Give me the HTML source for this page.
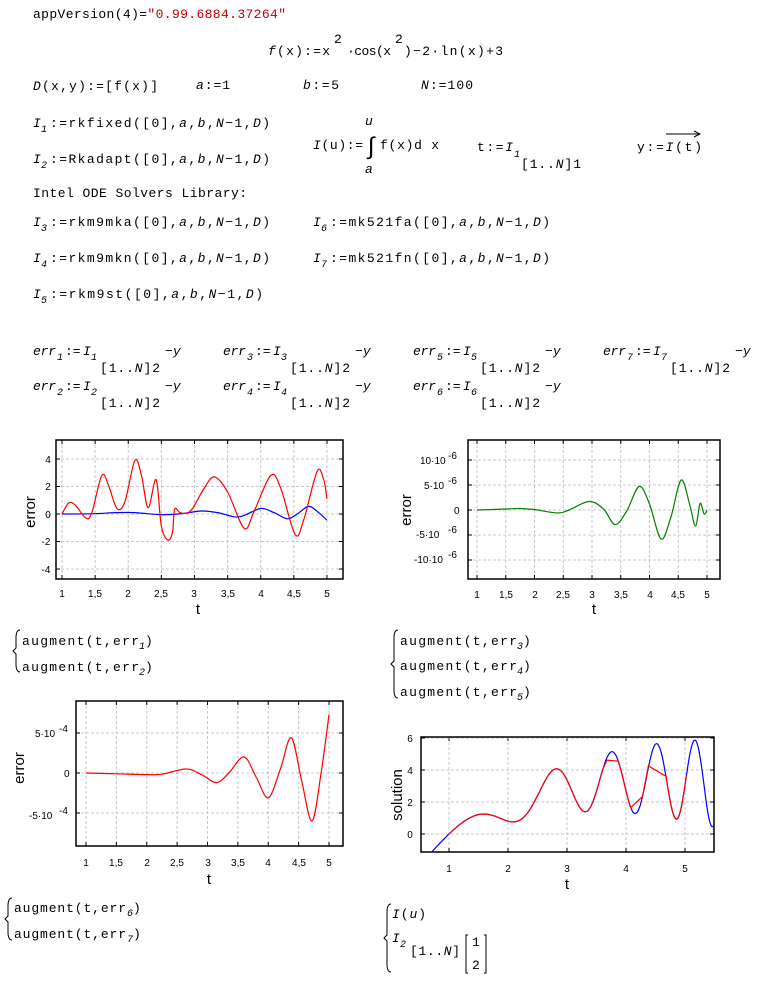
<!DOCTYPE html>
<html><head><meta charset="utf-8"><style>
html,body{margin:0;padding:0;background:#fff;}
svg{display:block}
.m{font-family:"Liberation Mono",monospace;font-size:13px;fill:#000}
.i{font-style:italic}
.s{font-size:10px}
.r{fill:#c00000}
.tk{font-family:"Liberation Sans",sans-serif;font-size:10px;fill:#000}
.c{text-anchor:middle}
.ax{font-family:"Liberation Sans",sans-serif;font-size:15px;fill:#000}
</style></head><body>
<svg id="sv" width="757" height="981" viewBox="0 0 757 981" xmlns="http://www.w3.org/2000/svg">
<g class="m">
<text x="33" y="18" textLength="253" lengthAdjust="spacing">appVersion(4)=<tspan class="r">"0.99.6884.37264"</tspan></text>
<text x="268" y="55" textLength="62" lengthAdjust="spacing"><tspan class="i">f</tspan>(x):=x</text><text x="334" y="43">2</text>
<text x="347" y="55" textLength="44" lengthAdjust="spacing">·cos(x</text><text x="395" y="43">2</text>
<text x="404" y="55" textLength="99" lengthAdjust="spacing">)−2·ln(x)+3</text>
<text x="33" y="90" textLength="125" lengthAdjust="spacing"><tspan class="i">D</tspan>(x,y):=[f(x)]</text>
<text x="196" y="89" textLength="34" lengthAdjust="spacing"><tspan class="i">a</tspan>:=1</text>
<text x="303" y="89" textLength="36" lengthAdjust="spacing"><tspan class="i">b</tspan>:=5</text>
<text x="421" y="89" textLength="52" lengthAdjust="spacing"><tspan class="i">N</tspan>:=100</text>

<text x="33" y="127" class="i">I</text><text x="41" y="132" class="s i">1</text><text x="50" y="127" textLength="220" lengthAdjust="spacing">:=rkfixed([0],<tspan class="i">a</tspan>,<tspan class="i">b</tspan>,<tspan class="i">N</tspan>−1,<tspan class="i">D</tspan>)</text>
<text x="33" y="163" class="i">I</text><text x="41" y="168" class="s i">2</text><text x="50" y="163" textLength="220" lengthAdjust="spacing">:=Rkadapt([0],<tspan class="i">a</tspan>,<tspan class="i">b</tspan>,<tspan class="i">N</tspan>−1,<tspan class="i">D</tspan>)</text>

<text x="365" y="125" class="i">u</text>
<text x="313" y="149" textLength="50" lengthAdjust="spacing"><tspan class="i">I</tspan>(u):=</text><text x="364" y="154" style="font-size:24px">∫</text>
<text x="380" y="149" textLength="59" lengthAdjust="spacing">f(x)d x</text>
<text x="365" y="173" class="i">a</text>
<text x="477" y="151" textLength="36" lengthAdjust="spacing">t:=<tspan class="i">I</tspan></text><text x="514" y="157" class="s i">1</text>
<text x="521" y="168" textLength="60" lengthAdjust="spacing">[1..<tspan class="i">N</tspan>]1</text>
<text x="637" y="151" textLength="65" lengthAdjust="spacing">y:=<tspan class="i">I</tspan>(t)</text>
<line x1="666" y1="134" x2="699" y2="134" stroke="#000" stroke-width="1"/><path d="M694,131 L700,134 L694,137" fill="none" stroke="#000"/>

<text x="33" y="197" textLength="214" lengthAdjust="spacing">Intel ODE Solvers Library:</text>
<text x="33" y="226" class="i">I</text><text x="41" y="231" class="s i">3</text><text x="50" y="226" textLength="220" lengthAdjust="spacing">:=rkm9mka([0],<tspan class="i">a</tspan>,<tspan class="i">b</tspan>,<tspan class="i">N</tspan>−1,<tspan class="i">D</tspan>)</text>
<text x="33" y="262" class="i">I</text><text x="41" y="267" class="s i">4</text><text x="50" y="262" textLength="220" lengthAdjust="spacing">:=rkm9mkn([0],<tspan class="i">a</tspan>,<tspan class="i">b</tspan>,<tspan class="i">N</tspan>−1,<tspan class="i">D</tspan>)</text>
<text x="33" y="298" class="i">I</text><text x="41" y="303" class="s i">5</text><text x="50" y="298" textLength="213" lengthAdjust="spacing">:=rkm9st([0],<tspan class="i">a</tspan>,<tspan class="i">b</tspan>,<tspan class="i">N</tspan>−1,<tspan class="i">D</tspan>)</text>
<text x="313" y="226" class="i">I</text><text x="321" y="231" class="s i">6</text><text x="330" y="226" textLength="220" lengthAdjust="spacing">:=mk521fa([0],<tspan class="i">a</tspan>,<tspan class="i">b</tspan>,<tspan class="i">N</tspan>−1,<tspan class="i">D</tspan>)</text>
<text x="313" y="262" class="i">I</text><text x="321" y="267" class="s i">7</text><text x="330" y="262" textLength="220" lengthAdjust="spacing">:=mk521fn([0],<tspan class="i">a</tspan>,<tspan class="i">b</tspan>,<tspan class="i">N</tspan>−1,<tspan class="i">D</tspan>)</text>
</g>
<g class="m" id="errs"></g>
<g id="c1"></g><g id="c2"></g><g id="c3"></g><g id="c4"></g>
<g class="tk">
<text x="48" y="463" class="c">4</text><text x="48" y="490" class="c">2</text><text x="48" y="518" class="c">0</text><text x="46" y="545" class="c">-2</text><text x="46" y="573" class="c">-4</text>
<text x="62" y="597" class="c">1</text><text x="95" y="597" class="c">1,5</text><text x="128" y="597" class="c">2</text><text x="161" y="597" class="c">2,5</text><text x="194" y="597" class="c">3</text><text x="228" y="597" class="c">3,5</text><text x="261" y="597" class="c">4</text><text x="294" y="597" class="c">4,5</text><text x="327" y="597" class="c">5</text>
<text x="420" y="464">10·10</text><text x="448" y="459" class="s">-6</text>
<text x="424" y="489">5·10</text><text x="448" y="484" class="s">-6</text>
<text x="454" y="514">0</text>
<text x="416" y="538">-5·10</text><text x="448" y="533" class="s">-6</text>
<text x="414" y="563">-10·10</text><text x="448" y="558" class="s">-6</text>
<text x="477" y="598" class="c">1</text><text x="506" y="598" class="c">1,5</text><text x="535" y="598" class="c">2</text><text x="563" y="598" class="c">2,5</text><text x="592" y="598" class="c">3</text><text x="621" y="598" class="c">3,5</text><text x="650" y="598" class="c">4</text><text x="678" y="598" class="c">4,5</text><text x="707" y="598" class="c">5</text>
<text x="35" y="737">5·10</text><text x="59" y="732" class="s">-4</text>
<text x="64" y="777">0</text>
<text x="29" y="819">-5·10</text><text x="59" y="814" class="s">-4</text>
<text x="86" y="866" class="c">1</text><text x="116" y="866" class="c">1,5</text><text x="147" y="866" class="c">2</text><text x="177" y="866" class="c">2,5</text><text x="208" y="866" class="c">3</text><text x="238" y="866" class="c">3,5</text><text x="268" y="866" class="c">4</text><text x="299" y="866" class="c">4,5</text><text x="329" y="866" class="c">5</text>
<text x="410" y="742" class="c">6</text><text x="410" y="774" class="c">4</text><text x="410" y="806" class="c">2</text><text x="410" y="838" class="c">0</text>
<text x="449" y="872" class="c">1</text><text x="508" y="872" class="c">2</text><text x="567" y="872" class="c">3</text><text x="626" y="872" class="c">4</text><text x="685" y="872" class="c">5</text>
</g>
<g class="ax">
<text x="198" y="614" class="c">t</text><text x="594" y="614" class="c">t</text><text x="209" y="884" class="c">t</text><text x="567" y="889" class="c">t</text>
<text transform="translate(35,512) rotate(-90)" text-anchor="middle">error</text>
<text transform="translate(411,510) rotate(-90)" text-anchor="middle">error</text>
<text transform="translate(24,768) rotate(-90)" text-anchor="middle">error</text>
<text transform="translate(402,795) rotate(-90)" text-anchor="middle">solution</text>
</g>
<g class="m">
<text x="22" y="645" textLength="117" lengthAdjust="spacing">augment(t,err</text><text x="139" y="649" class="s i">1</text><text x="145" y="645">)</text>
<text x="22" y="671" textLength="117" lengthAdjust="spacing">augment(t,err</text><text x="139" y="675" class="s i">2</text><text x="145" y="671">)</text>
<text x="400" y="645" textLength="117" lengthAdjust="spacing">augment(t,err</text><text x="517" y="649" class="s i">3</text><text x="523" y="645">)</text>
<text x="400" y="670" textLength="117" lengthAdjust="spacing">augment(t,err</text><text x="517" y="674" class="s i">4</text><text x="523" y="670">)</text>
<text x="400" y="696" textLength="117" lengthAdjust="spacing">augment(t,err</text><text x="517" y="700" class="s i">5</text><text x="523" y="696">)</text>
<text x="14" y="912" textLength="112" lengthAdjust="spacing">augment(t,err</text><text x="127" y="916" class="s i">6</text><text x="133" y="912">)</text>
<text x="14" y="938" textLength="112" lengthAdjust="spacing">augment(t,err</text><text x="127" y="942" class="s i">7</text><text x="133" y="938">)</text>
<text x="392" y="918" textLength="34" lengthAdjust="spacing"><tspan class="i">I</tspan>(<tspan class="i">u</tspan>)</text>
<text x="392" y="942" class="i">I</text><text x="400" y="947" class="s i">2</text>
<text x="410" y="955" textLength="50" lengthAdjust="spacing">[1..<tspan class="i">N</tspan>]</text>
<text x="472" y="946">1</text><text x="472" y="969">2</text>
</g>
<path d="M20,630 q-4,0 -4,8 v10 l-3,3 l3,3 v10 q0,8 4,8" fill="none" stroke="#000"/>
<path d="M398,630 q-4,0 -4,8 v23 l-3,3 l3,3 v23 q0,8 4,8" fill="none" stroke="#000"/>
<path d="M12,898 q-4,0 -4,8 v10 l-3,3 l3,3 v10 q0,8 4,8" fill="none" stroke="#000"/>
<path d="M391,904 q-4,0 -4,8 v23 l-3,3 l3,3 v23 q0,8 4,8" fill="none" stroke="#000"/>
<path d="M468,935 h-2 v38 h2 M484,935 h2 v38 h-2" fill="none" stroke="#000"/>
</svg>
<script>
var NS="http://www.w3.org/2000/svg";
function el(p,n,a){var e=document.createElementNS(NS,n);for(var k in a)e.setAttribute(k,a[k]);p.appendChild(e);return e;}
(function(){var g=document.getElementById('errs');
var items=[[33,355,1],[33,390,2],[223,355,3],[223,390,4],[413,355,5],[413,390,6],[603,355,7]];
items.forEach(function(it){var x=it[0],y=it[1],n=it[2];
 var t=el(g,'text',{x:x,y:y,'font-style':'italic',textLength:23,lengthAdjust:'spacing'});t.textContent='err';
 var s=el(g,'text',{x:x+24,y:y+5,'class':'s i'});s.textContent=n;
 var t2=el(g,'text',{x:x+32,y:y});t2.textContent=':=';
 var t3=el(g,'text',{x:x+50,y:y,'font-style':'italic'});t3.textContent='I';
 var s2=el(g,'text',{x:x+58,y:y+5,'class':'s i'});s2.textContent=n;
 var t4=el(g,'text',{x:x+67,y:y+17,textLength:60,lengthAdjust:'spacing'});t4.innerHTML='[1..<tspan font-style="italic">N</tspan>]2';
 var t5=el(g,'text',{x:x+132,y:y});t5.innerHTML='−<tspan font-style="italic">y</tspan>';
});})();
function chart(id,bx,by,bw,bh,xs,ys,grid){
 var g=document.getElementById(id);
 grid.x.forEach(function(v){var X=xs(v);el(g,'line',{x1:X,y1:by,x2:X,y2:by+bh,stroke:'#c8c8c8','stroke-dasharray':'3,2'});
  el(g,'line',{x1:X,y1:by,x2:X,y2:by+4,stroke:'#000'});el(g,'line',{x1:X,y1:by+bh,x2:X,y2:by+bh-4,stroke:'#000'});});
 grid.y.forEach(function(v){var Y=ys(v);el(g,'line',{x1:bx,y1:Y,x2:bx+bw,y2:Y,stroke:'#c8c8c8','stroke-dasharray':'3,2'});
  el(g,'line',{x1:bx,y1:Y,x2:bx+4,y2:Y,stroke:'#000'});el(g,'line',{x1:bx+bw,y1:Y,x2:bx+bw-4,y2:Y,stroke:'#000'});});
 el(g,'rect',{x:bx,y:by,width:bw,height:bh,fill:'none',stroke:'#000','stroke-width':1.5});
 return g;}
function smooth(pts,xs,ys){var P=pts.map(function(p){return [xs(p[0]),ys(p[1])];});
 var d='M'+P[0][0].toFixed(1)+','+P[0][1].toFixed(1);
 for(var i=0;i<P.length-1;i++){var p0=P[Math.max(i-1,0)],p1=P[i],p2=P[i+1],p3=P[Math.min(i+2,P.length-1)];
  var c1=[p1[0]+(p2[0]-p0[0])/6,p1[1]+(p2[1]-p0[1])/6],c2=[p2[0]-(p3[0]-p1[0])/6,p2[1]-(p3[1]-p1[1])/6];
  d+=' C'+c1[0].toFixed(1)+','+c1[1].toFixed(1)+' '+c2[0].toFixed(1)+','+c2[1].toFixed(1)+' '+p2[0].toFixed(1)+','+p2[1].toFixed(1);}
 return d;}
function poly(pts,xs,ys){return 'M'+pts.map(function(p){return xs(p[0]).toFixed(1)+','+ys(p[1]).toFixed(1);}).join(' L');}
function lin(a0,p0,a1,p1){return function(v){return p0+(v-a0)*(p1-p0)/(a1-a0);};}
var H=[1,1.5,2,2.5,3,3.5,4,4.5,5];
var x1=lin(1,62,5,327),y1=lin(0,514,4,459);
var g1=chart('c1',56,440,287,139,x1,y1,{x:H,y:[-4,-2,0,2,4]});
el(g1,'path',{d:smooth([[1,0],[1.5,0.02],[1.8,0.1],[2.1,0.1],[2.5,-0.05],[2.8,0.02],[3.1,0.22],[3.35,0.1],[3.6,-0.2],[3.75,-0.1],[4,0.4],[4.2,0.1],[4.4,-0.35],[4.55,0],[4.72,0.55],[4.85,0.2],[5,-0.45]],x1,y1),fill:'none',stroke:'#0000ff','stroke-width':1.2});
el(g1,'path',{d:smooth([[1,0],[1.1,0.8],[1.2,0.65],[1.36,-0.3],[1.45,0.1],[1.6,2.8],[1.7,2.1],[1.83,0.4],[1.95,0.9],[2.1,3.9],[2.2,2.8],[2.3,0.45],[2.42,2.5],[2.5,-0.9],[2.6,-1.9],[2.67,-1.3],[2.7,0.35],[2.78,0.1],[2.87,0.05],[2.97,0.4],[3.15,1.9],[3.3,2.7],[3.5,1.6],[3.75,-1.05],[3.9,0.2],[4.15,2.8],[4.3,1.9],[4.52,-1.5],[4.65,-0.4],[4.85,3.1],[4.95,2.5],[5,1.1]],x1,y1),fill:'none',stroke:'#ff0000','stroke-width':1.2});
var x2=lin(1,477,5,707),y2=lin(0,510,10,460);
var g2=chart('c2',468,440,252,139,x2,y2,{x:H,y:[-10,-5,0,5,10]});
el(g2,'path',{d:smooth([[1,0],[1.5,0.2],[1.75,0.3],[2,0.1],[2.4,-0.6],[2.6,0],[2.95,1.7],[3.2,0.2],[3.4,-2.9],[3.6,-0.3],[3.82,4.7],[4,1.2],[4.2,-5.8],[4.37,-1.5],[4.55,6],[4.7,1],[4.8,-3.2],[4.88,1.3],[4.95,-0.8],[5,0]],x2,y2),fill:'none',stroke:'#008000','stroke-width':1.2});
var x3=lin(1,86,5,329),y3=lin(0,773,5,733);
var g3=chart('c3',76,701,267,145,x3,y3,{x:H,y:[-5,0,5]});
el(g3,'path',{d:smooth([[1,0],[1.5,-0.1],[2,-0.2],[2.25,-0.15],[2.65,0.5],[2.9,-0.2],[3.15,-1.2],[3.35,0],[3.6,2],[3.8,-0.5],[4,-3.1],[4.2,0.5],[4.38,4.4],[4.55,-1],[4.72,-6],[4.87,0],[5,7.3]],x3,y3),fill:'none',stroke:'#ff0000','stroke-width':1.2});
var x4=lin(1,449,2,508),y4=lin(0,834,6,738);
var g4=chart('c4',421,737,293,115,x4,y4,{x:[1,2,3,4,5],y:[0,2,4,6]});
function f(x){return x*x*Math.cos(x*x)-2*Math.log(x)+3;}
function I(u){var n=400,h=(u-1)/n,s=f(1)+f(u);for(var k=1;k<n;k++)s+=(k%2?4:2)*f(1+k*h);return s*h/3;}
var bl=[];for(var t=0.7;t<=5.5;t+=0.01)bl.push([t,I(t)]);
var cp=document.createElementNS(NS,'clipPath');cp.id='cl';g4.appendChild(cp);el(cp,'rect',{x:421,y:737,width:293,height:115});
el(g4,'path',{d:poly(bl,x4,y4),fill:'none',stroke:'#0000ff','stroke-width':1.2,'clip-path':'url(#cl)'});
var rd=[];for(var t=1;t<=3.62;t+=0.03)rd.push([t,I(t)]);
rd.push([3.68,4.62],[3.87,4.55]);[3.92,3.97,4.02,4.06].forEach(function(t){rd.push([t,I(t)]);});
rd.push([4.08,1.65],[4.28,2.35],[4.38,4.25],[4.68,3.6]);
for(var t=4.7;t<=5.05;t+=0.025)rd.push([t,I(t)]);
el(g4,'path',{d:poly(rd,x4,y4),fill:'none',stroke:'#ff0000','stroke-width':1.2,'clip-path':'url(#cl)'});
</script>
</body></html>
